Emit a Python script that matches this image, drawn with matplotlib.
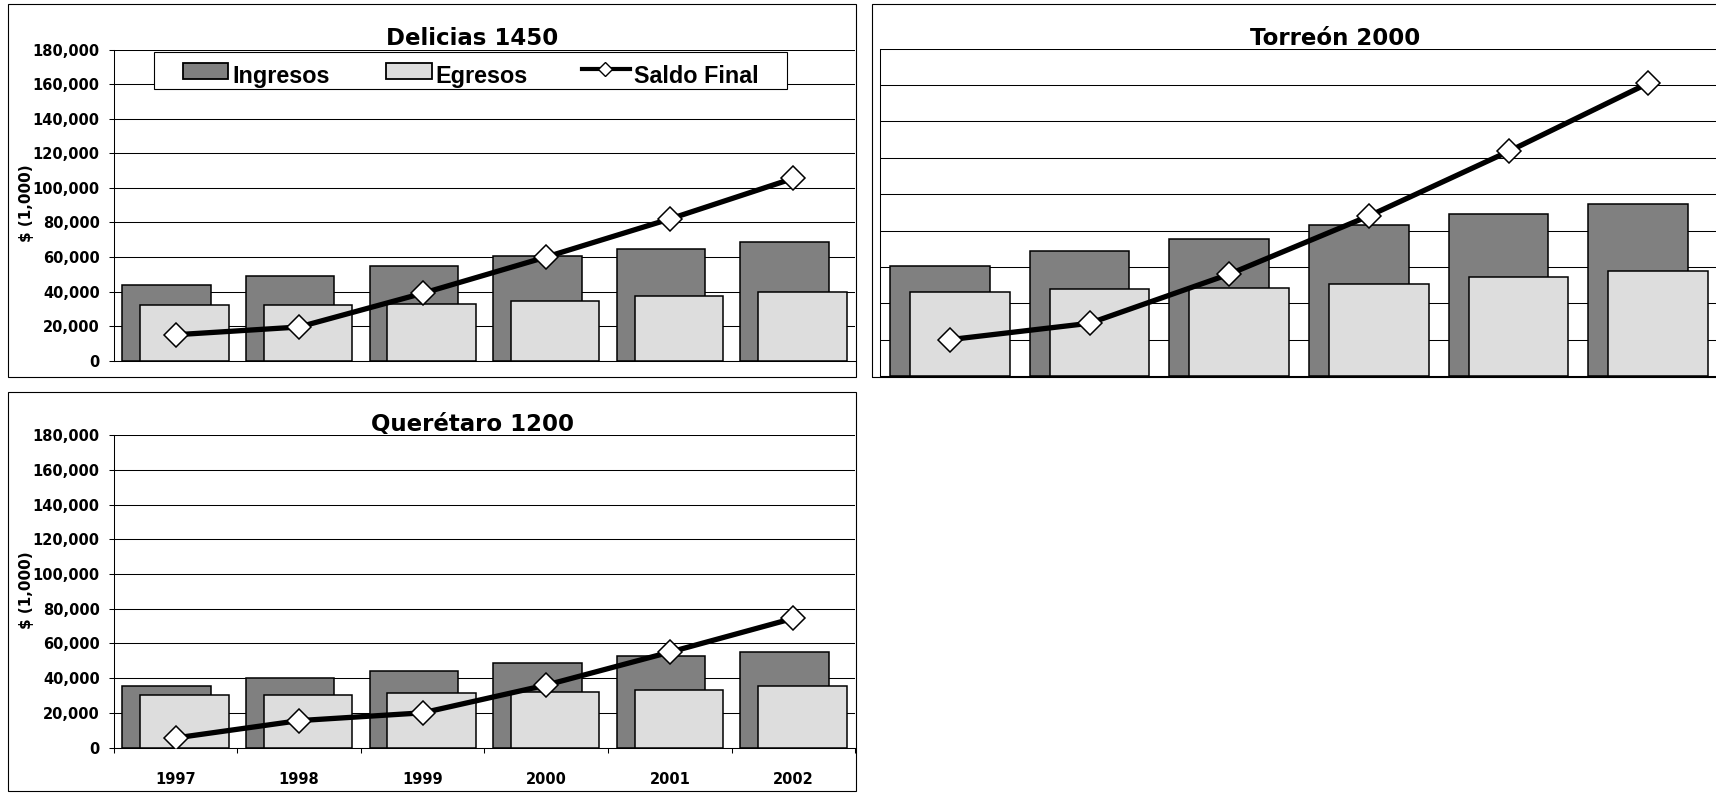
import numpy as np
import matplotlib
matplotlib.use("Agg")
import matplotlib.pyplot as plt
from matplotlib.patches import Rectangle
from matplotlib.lines import Line2D
from matplotlib.ticker import FuncFormatter

plt.rcParams["font.family"] = "DejaVu Sans"
plt.rcParams["font.weight"] = "bold"

years = ["1997", "1998", "1999", "2000", "2001", "2002"]

delicias_ingresos = [44000, 49000, 55000, 60500, 64500, 68500]
delicias_egresos = [32500, 32500, 33000, 34500, 37500, 40000]
delicias_saldo = [15000, 19500, 39000, 60000, 82000, 105500]

torreon_ingresos = [60500, 68500, 75500, 83000, 89000, 94500]
torreon_egresos = [46000, 48000, 48500, 50500, 54500, 58000]
torreon_saldo = [20000, 29000, 56000, 88000, 123500, 161000]

queretaro_ingresos = [35500, 40000, 44000, 49000, 52500, 55000]
queretaro_egresos = [30000, 30500, 31500, 32000, 33000, 35500]
queretaro_saldo = [5500, 15500, 20000, 36000, 55000, 74500]

W, H = 1716, 793
fig = plt.figure(figsize=(W / 100, H / 100), dpi=100)


def fx(x):
    return x / W


def fy(y):
    # pixel rows are counted from the top
    return 1 - y / H


def px_rect(x0, y0, x1, y1):
    return [fx(x0), fy(y1), (x1 - x0) / W, (y1 - y0) / H]


def panel(rect, ingresos, egresos, saldo, show_y=True, show_x=False):
    ax = fig.add_axes(rect)
    x = np.arange(len(years))
    ax.bar(x - 0.072, ingresos, 0.715, color="#808080", edgecolor="black",
           linewidth=1.1, zorder=2)
    ax.bar(x + 0.072, egresos, 0.715, color="#dddddd", edgecolor="black",
           linewidth=1.1, zorder=3)
    ax.plot(x, saldo, color="black", lw=3.8, marker="D", ms=12,
            mfc="white", mec="black", mew=1.1, zorder=4)

    ax.set_xlim(-0.5, 5.5)
    ax.set_ylim(0, 180000)
    ax.set_yticks(np.arange(0, 180001, 20000))
    ax.yaxis.set_major_formatter(FuncFormatter(lambda v, p: f"{int(v):,}"))
    ax.yaxis.grid(True, color="black", lw=0.75)
    ax.set_axisbelow(True)
    ax.patch.set_alpha(0)
    for s in ("top", "right"):
        ax.spines[s].set_visible(False)
    for s in ("left", "bottom"):
        ax.spines[s].set_linewidth(0.75)

    if show_y:
        ax.tick_params(axis="y", length=3.6, width=0.75, pad=6.5,
                       labelsize=10.5)
    else:
        ax.tick_params(axis="y", length=0, labelleft=False)

    if show_x:
        ax.set_xticks(np.arange(-0.5, 6, 1))
        ax.set_xticklabels([])
        ax.tick_params(axis="x", which="major", length=3.6, width=0.75)
        ax.set_xticks(x, minor=True)
        ax.set_xticklabels(years, minor=True)
        ax.tick_params(axis="x", which="minor", length=0, pad=18,
                       labelsize=10.5)
    else:
        ax.set_xticks([])
    return ax


# panel frames
for r in [(7.5, 4, 856, 377), (871.5, 4, 1730, 377), (7.5, 392, 856, 791)]:
    fig.add_artist(Rectangle((fx(r[0]), fy(r[3])), (r[2] - r[0]) / W,
                             (r[3] - r[1]) / H, transform=fig.transFigure,
                             facecolor="none", edgecolor="black", lw=0.8))

panel(px_rect(113.7, 49.5, 855.3, 360.7),
      delicias_ingresos, delicias_egresos, delicias_saldo)
panel(px_rect(880, 48.7, 1718, 376),
      torreon_ingresos, torreon_egresos, torreon_saldo, show_y=False)
panel(px_rect(113.7, 435.3, 855.3, 747.5),
      queretaro_ingresos, queretaro_egresos, queretaro_saldo, show_x=True)

# titles and y labels
fig.text(fx(472), fy(45), "Delicias 1450", ha="center", va="baseline",
         fontsize=16.5)
fig.text(fx(1335.5), fy(45), "Torreón 2000", ha="center", va="baseline",
         fontsize=16.5)
fig.text(fx(472.5), fy(431), "Querétaro 1200", ha="center", va="baseline",
         fontsize=16.5)
for yc in (203, 590):
    fig.text(fx(27), fy(yc), "$ (1,000)", rotation=90, ha="center",
             va="center", fontsize=11)

# legend box on the first panel
fig.add_artist(Rectangle((fx(154), fy(89.3)), (786.7 - 154) / W,
                         (89.3 - 51.7) / H, transform=fig.transFigure,
                         facecolor="white", edgecolor="black", lw=0.8,
                         zorder=5))
for x0, col in ((182.7, "#808080"), (386, "#dddddd")):
    fig.add_artist(Rectangle((fx(x0), fy(79)), 45.6 / W, 15.7 / H,
                             transform=fig.transFigure, facecolor=col,
                             edgecolor="black", lw=1.3, zorder=6))
fig.add_artist(Line2D([fx(581.7), fx(630)], [fy(68.5), fy(68.5)],
                      transform=fig.transFigure, color="black", lw=3,
                      zorder=6))
fig.add_artist(Line2D([fx(605.3)], [fy(68.7)], transform=fig.transFigure,
                      marker="D", ms=7.5, mfc="white", mec="black", mew=1,
                      zorder=7))
for xt, label in ((232.7, "Ingresos"), (435, "Egresos"),
                  (634, "Saldo Final")):
    fig.text(fx(xt), fy(82.7), label, ha="left", va="baseline",
             fontsize=16.8, family="Liberation Sans", zorder=7)

fig.savefig("out.png", dpi=100)
